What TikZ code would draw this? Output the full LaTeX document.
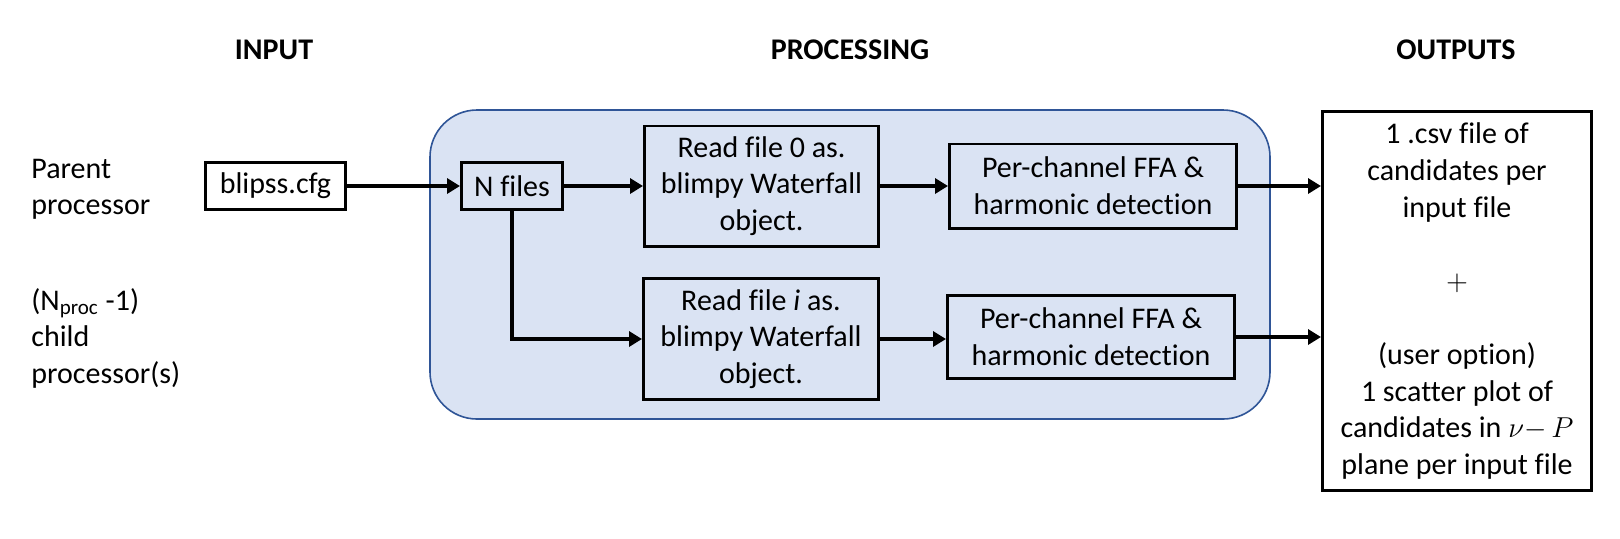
\documentclass[tikz,border=0pt]{standalone}
\usepackage{fontspec}
\setmainfont{Carlito}[Ligatures={NoCommon}]
\usetikzlibrary{arrows.meta}
\definecolor{procfill}{RGB}{218,227,243}
\definecolor{procdraw}{RGB}{47,85,151}
\begin{document}
\begin{tikzpicture}[x=0.5pt,y=-0.5pt,
  every node/.style={font=\fontsize{15}{18.4}\selectfont},
  box/.style={draw=black,line width=1.3pt,inner sep=0pt,align=center},
  container/.style={draw=procdraw,fill=procfill,line width=0.8pt,rounded corners=23.5pt,inner sep=0pt},
  flow/.style={line width=2pt,-{Triangle[length=6.5pt,width=7.5pt]}},
  heading/.style={font=\fontsize{15}{18.4}\selectfont\bfseries},
  side/.style={anchor=base west,inner sep=0pt}]
\useasboundingbox (0,0) rectangle (1620,538);

% headings
\node[heading] (hin) at (274,50) {INPUT};
\node[heading] (hproc) at (850,50) {PROCESSING};
\node[heading] (hout) at (1456,50) {OUTPUTS};

% side labels
\node[side] (parent) at (31,178) {\begin{tabular}[t]{@{}l@{}}Parent\\processor\end{tabular}};
\node[side] (child) at (31,310) {\begin{tabular}[t]{@{}l@{}}(N\textsubscript{proc} -1)\\child\\processor(s)\end{tabular}};

% processing container
\node[container, minimum width=420pt, minimum height=154.5pt] (proc) at (850,264.5) {};

% boxes
\node[box, minimum width=70.2pt, minimum height=23.7pt] (blipss) at (275.5,186) {blipss.cfg};
\node[box, minimum width=50.7pt, minimum height=23.7pt] (nfiles) at (512,186) {N files};
\node[box, minimum width=117.2pt, minimum height=60.2pt] (read0) at (761.5,186) {Read file 0 as.\\blimpy Waterfall\\object.};
\node[box, minimum width=117.7pt, minimum height=60.7pt] (readi) at (761,339) {Read file \textit{i} as.\\blimpy Waterfall\\object.};
\node[box, minimum width=143.7pt, minimum height=42.2pt] (ffa0) at (1093,186) {Per-channel FFA \&\\harmonic detection};
\node[box, minimum width=143.7pt, minimum height=41.7pt] (ffai) at (1091,337) {Per-channel FFA \&\\harmonic detection};
\node[box, minimum width=134.7pt, minimum height=189.7pt] (out) at (1457,301)
  {1 .csv file of\\candidates per\\input file\\[18.4pt]$+$\\[18.4pt](user option)\\1 scatter plot of\\candidates in $\nu{-}\,P$\\plane per input file};

% connectors
\draw[flow] (blipss.east) -- (nfiles.west);
\draw[flow] (nfiles.east) -- (nfiles.east -| read0.west);
\draw[flow] (read0.east) -- (read0.east -| ffa0.west);
\draw[flow] (nfiles.south) |- (readi.west);
\draw[flow] (readi.east) -- (readi.east -| ffai.west);
\draw[flow] (ffa0.east) -- (ffa0.east -| out.west);
\draw[flow] (ffai.east) -- (ffai.east -| out.west);
\end{tikzpicture}
\end{document}
